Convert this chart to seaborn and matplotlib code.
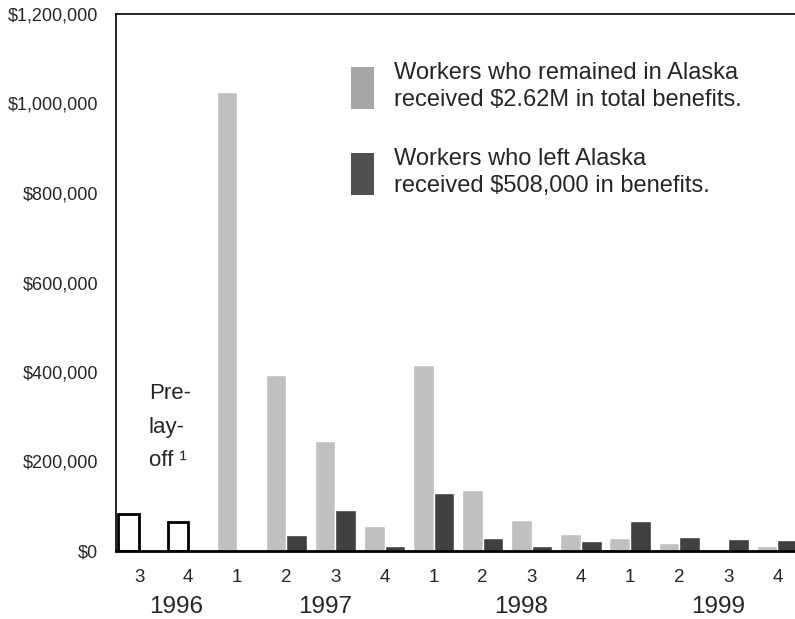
import pandas as pd
import seaborn as sns
import matplotlib.pyplot as plt
from matplotlib.patches import Patch
from matplotlib.ticker import StrMethodFormatter

# quarters on the x axis
quarters = ['1996 Q3', '1996 Q4',
            '1997 Q1', '1997 Q2', '1997 Q3', '1997 Q4',
            '1998 Q1', '1998 Q2', '1998 Q3', '1998 Q4',
            '1999 Q1', '1999 Q2', '1999 Q3', '1999 Q4']
quarter_labels = ['3', '4', '1', '2', '3', '4', '1', '2', '3', '4', '1', '2', '3', '4']
years = ['1996', '1997', '1998', '1999']

# benefits before the layoff (1996 Q3, Q4)
prelayoff = [82000, 65000]
# benefits after the layoff, 1997 Q1 .. 1999 Q4
remained = [1026000, 393000, 246000, 56000, 416000, 136000, 69000, 38000, 29000, 18000, 0, 11000]
left = [0, 36000, 92000, 11000, 129000, 28000, 11000, 23000, 68000, 31000, 26000, 25000]

label_remained = 'Workers who remained in Alaska\nreceived $2.62M in total benefits.'
label_left = 'Workers who left Alaska\nreceived $508,000 in benefits.'

df = pd.DataFrame({
    'quarter': quarters * 2,
    'group': ['remained'] * len(quarters) + ['left'] * len(quarters),
    'benefits': prelayoff + remained + [0, 0] + left,
})

sns.set_style('white')
plt.rcParams['font.family'] = ['Liberation Sans', 'DejaVu Sans']
plt.rcParams['text.parse_math'] = False

fig = plt.figure(figsize=(7.95, 6.19), dpi=100)
ax = fig.add_axes([116 / 795, 68 / 619, 1 - 116 / 795, 537 / 619])

sns.barplot(data=df, x='quarter', y='benefits', hue='group', order=quarters,
            hue_order=['remained', 'left'], palette=['#c0c0c0', '#404040'],
            width=0.84, edgecolor='white', linewidth=1, legend=False, ax=ax)

# pre-layoff quarters drawn as hollow bars
for bar in ax.containers[0][:2]:
    bar.set_facecolor('white')
    bar.set_edgecolor('black')
    bar.set_linewidth(2)

ax.set_ylim(0, 1200000)
ax.set_yticks(range(0, 1200001, 200000))
ax.yaxis.set_major_formatter(StrMethodFormatter('${x:,.0f}'))
ax.set_xlim(-0.47, 13.36)
ax.set_xticks(range(len(quarters)))
ax.set_xticklabels(quarter_labels)
ax.tick_params(axis='y', length=0, pad=13, labelsize=13)
ax.tick_params(axis='x', length=0, pad=13, labelsize=13.5)
ax.set_xlabel('')
ax.set_ylabel('')

for side in ['left', 'top', 'bottom']:
    ax.spines[side].set_visible(True)
    ax.spines[side].set_color('black')
ax.spines['left'].set_linewidth(1.2)
ax.spines['top'].set_linewidth(1.2)
ax.spines['bottom'].set_linewidth(2)
ax.spines['right'].set_visible(False)

# year labels under the quarters
year_pos = [0.75, 3.79, 7.78, 11.79]
for yr, xp in zip(years, year_pos):
    ax.text(xp, -0.104, yr, transform=ax.get_xaxis_transform(),
            ha='center', va='center', fontsize=17.5)

ax.text(0.20, 375000, 'Pre-\nlay-\noff \u00b9', ha='left', va='top',
        fontsize=16, linespacing=1.78)

handles = [Patch(facecolor='#a6a6a6', edgecolor='none'),
           Patch(facecolor='#505050', edgecolor='none')]
leg = fig.legend(handles, [label_remained, label_left], loc='upper left',
                 bbox_to_anchor=(351 / 795, 1 - 62 / 619), frameon=False,
                 fontsize=17, handlelength=0.97, handleheight=2.36,
                 handletextpad=0.85, labelspacing=1.55, borderpad=0, borderaxespad=0)
for t in leg.get_texts():
    t.set_linespacing(1.32)

plt.savefig('out.png', dpi=100)
